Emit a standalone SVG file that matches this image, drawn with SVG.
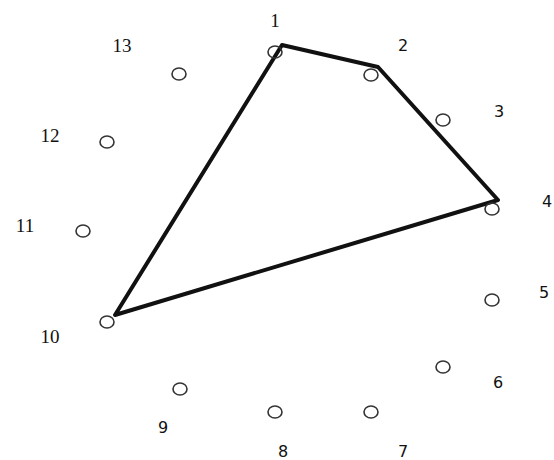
<svg xmlns="http://www.w3.org/2000/svg" width="554" height="460" viewBox="0 0 554 460">
<style>
.pt{fill:none;stroke:#333;stroke-width:1.6}
.edge{fill:none;stroke:#111;stroke-width:4;stroke-linejoin:round;stroke-linecap:round}
.ls{font-family:"Liberation Serif",serif;font-size:19px;fill:#111;text-anchor:middle}
.la{font-family:"DejaVu Sans","Liberation Sans",sans-serif;font-size:16px;fill:#111;text-anchor:middle}
</style>
<rect width="554" height="460" fill="#fff"/>
<g id="connectors">
<polyline class="edge" points="282,45 378,67 498,200 115,315 282,45"/>
</g>
<g id="n1"><ellipse class="pt" cx="275" cy="52" rx="7" ry="6"/><text class="ls" x="275" y="27">1</text></g>
<g id="n2"><ellipse class="pt" cx="371" cy="75" rx="7" ry="6"/><text class="la" x="403" y="51">2</text></g>
<g id="n3"><ellipse class="pt" cx="443" cy="120" rx="7" ry="6"/><text class="la" x="499" y="117">3</text></g>
<g id="n4"><ellipse class="pt" cx="492" cy="209" rx="7" ry="6"/><text class="la" x="547" y="207">4</text></g>
<g id="n5"><ellipse class="pt" cx="492" cy="300" rx="7" ry="6"/><text class="la" x="544" y="298">5</text></g>
<g id="n6"><ellipse class="pt" cx="443" cy="367" rx="7" ry="6"/><text class="la" x="498" y="388">6</text></g>
<g id="n7"><ellipse class="pt" cx="371" cy="412" rx="7" ry="6"/><text class="la" x="403" y="457">7</text></g>
<g id="n8"><ellipse class="pt" cx="275" cy="412" rx="7" ry="6"/><text class="la" x="283" y="457">8</text></g>
<g id="n9"><ellipse class="pt" cx="180" cy="389" rx="7" ry="6"/><text class="la" x="163" y="433">9</text></g>
<g id="n10"><ellipse class="pt" cx="107" cy="322" rx="7" ry="6"/><text class="ls" x="50" y="343">10</text></g>
<g id="n11"><ellipse class="pt" cx="83" cy="231" rx="7" ry="6"/><text class="ls" x="25" y="232">11</text></g>
<g id="n12"><ellipse class="pt" cx="107" cy="142" rx="7" ry="6"/><text class="ls" x="50" y="142">12</text></g>
<g id="n13"><ellipse class="pt" cx="179" cy="74" rx="7" ry="6"/><text class="ls" x="122" y="52">13</text></g>
</svg>
